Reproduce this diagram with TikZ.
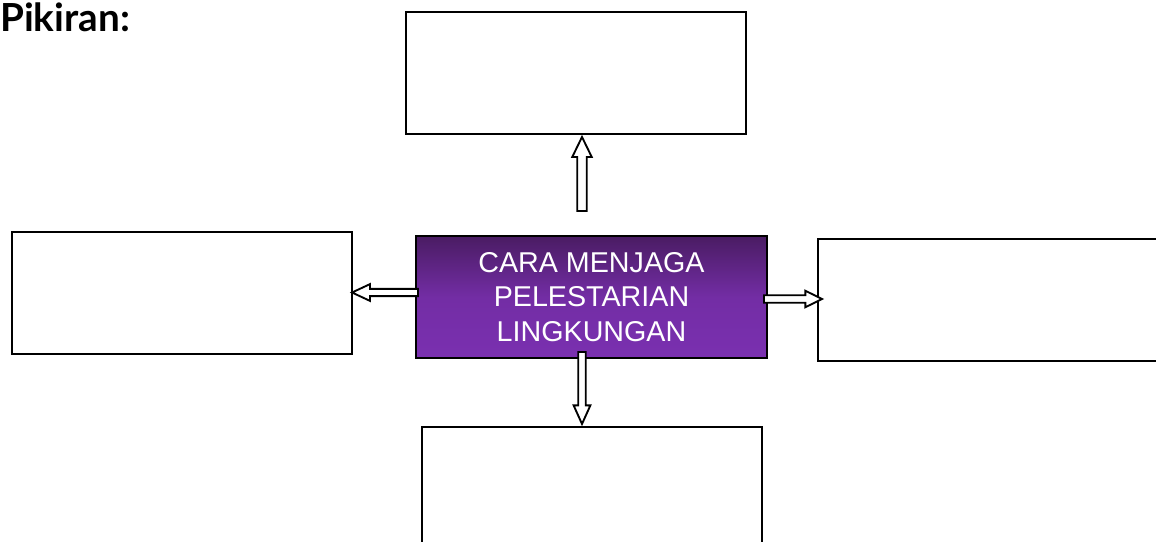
\documentclass[tikz,border=0pt]{standalone}
\usepackage{fontspec}
\setmainfont{Liberation Sans}
\newfontfamily\headfont{Lato}
\usetikzlibrary{calc}
\definecolor{purpDark}{HTML}{4A1C63}
\definecolor{purpLight}{HTML}{7A30B0}
\newcommand{\blockArrow}[5]{%
    \coordinate (hb) at ($(#2)!#5!(#1)$);
    \draw[arrowline] ($(#1)!#3!90:(#2)$) -- ($(hb)!#3!-90:(#1)$)
        -- ($(hb)!#4!-90:(#1)$) -- (#2) -- ($(hb)!#4!90:(#1)$)
        -- ($(hb)!#3!90:(#1)$) -- ($(#1)!#3!-90:(#2)$) -- cycle;
}

\begin{document}
\begin{tikzpicture}[x=0.75pt, y=-0.75pt,
    box/.style={draw=black, line width=1.5pt, inner sep=0pt,
        minimum width=255pt, minimum height=91.5pt},
    mainbox/.style={box, line width=1.3pt, minimum width=263pt,
        top color=purpDark, bottom color=purpLight, middle color=purpLight!85!purpDark,
        text=white, align=center, font=\fontsize{21.5}{26}\selectfont},
    arrowline/.style={draw=black, fill=white, line width=1.4pt, line join=miter}]
\useasboundingbox (0,0) rectangle (1156,542);
\clip (0,0) rectangle (1156,542);

\node[anchor=base west, inner sep=0pt, font=\headfont\bfseries\fontsize{29}{32}\selectfont] (title) at (0,32) {Pikiran:};

\node[mainbox] (main) at (591.5,297) {CARA MENJAGA\\PELESTARIAN\\LINGKUNGAN};
\node[box] (top) at (575.5,73) {};
\node[box] (left) at (182,293) {};
\node[box] (right) at (988,299.5) {};
\node[box] (bottom) at (592,488) {};

% arrows
\coordinate (upS) at (582,211);
\coordinate (upE) at (582,137);
\coordinate (leS) at (418,292.5);
\coordinate (leE) at (352,292.5);
\coordinate (riS) at (764,299);
\coordinate (riE) at (822,299);
\coordinate (doS) at (582,352);
\coordinate (doE) at (582,424);
\blockArrow{upS}{upE}{3.6pt}{7.3pt}{15pt}
\blockArrow{leS}{leE}{2.7pt}{6.3pt}{13.5pt}
\blockArrow{riS}{riE}{2.8pt}{6.2pt}{12.5pt}
\blockArrow{doS}{doE}{2.8pt}{6.3pt}{14pt}
\end{tikzpicture}
\end{document}
